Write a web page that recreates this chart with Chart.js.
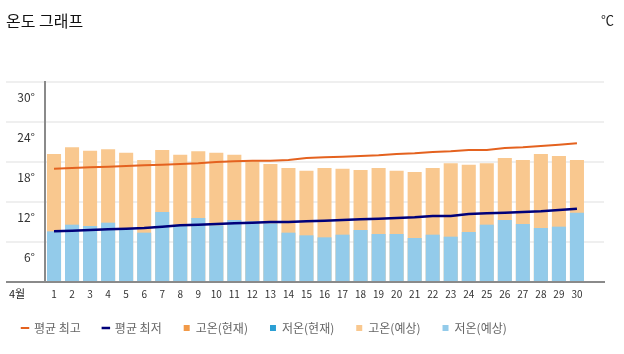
<!DOCTYPE html>
<html>
<head>
<meta charset="utf-8">
<script src="https://cdn.jsdelivr.net/npm/chart.js@4"></script>
<style>
  body { margin: 0; background: #fff; }
  #wrap { position: relative; width: 624px; height: 354px; }
  #titulo { position: absolute; left: 6px; top: 8px; font: 16px "Noto Sans CJK KR", sans-serif; color: #111; }
  #unidad { position: absolute; right: 10px; top: 10px; font: 13px "Noto Sans CJK KR", sans-serif; color: #222; }
  #mes { position: absolute; left: 9px; top: 285px; font: 11px "Noto Sans CJK KR", sans-serif; color: #222; }
</style>
</head>
<body>
<div id="wrap">
  <div id="titulo">온도 그래프</div>
  <div id="unidad">℃</div>
  <div id="mes">4월</div>
  <canvas id="myChart" width="624" height="354"></canvas>
</div>
<script>
const dias = ["1","2","3","4","5","6","7","8","9","10","11","12","13","14","15","16","17","18","19","20","21","22","23","24","25","26","27","28","29","30",""];

const promedioMaxima = [17.0,17.1,17.2,17.3,17.4,17.5,17.6,17.7,17.8,18.0,18.1,18.2,18.2,18.3,18.6,18.7,18.8,18.9,19.0,19.2,19.3,19.5,19.6,19.8,19.8,20.1,20.2,20.4,20.6,20.8];
const promedioMinima = [7.6,7.7,7.8,7.9,8.0,8.1,8.3,8.5,8.6,8.7,8.8,8.9,9.0,9.0,9.1,9.2,9.3,9.4,9.5,9.6,9.7,9.9,9.9,10.2,10.3,10.4,10.5,10.6,10.8,11.0];

const maximaActual = [];
const minimaActual = [];

const maximaPrevista = [19.2,20.2,19.7,19.9,19.4,18.3,19.8,19.1,19.6,19.4,19.1,18.1,17.7,17.1,16.7,17.1,17.0,16.8,17.1,16.7,16.5,17.1,17.8,17.6,17.8,18.6,18.3,19.2,18.9,18.3];
const minimaPrevista = [7.6,8.6,8.4,8.9,8.0,7.4,10.5,8.6,9.6,8.5,9.3,9.1,8.8,7.4,7.0,6.7,7.1,7.8,7.2,7.2,6.6,7.1,6.8,7.5,8.6,9.3,8.7,8.1,8.3,10.4];

const ticksY = [0, 6, 12, 18, 24, 30];

const fuente = "'Noto Sans CJK KR', 'Noto Sans', sans-serif";

const ctx = document.getElementById('myChart').getContext('2d');
new Chart(ctx, {
  data: {
    labels: dias,
    datasets: [
      {
        type: 'line',
        label: '평균 최고',
        data: promedioMaxima,
        borderColor: '#e4621f',
        backgroundColor: '#e4621f',
        borderWidth: 2,
        pointRadius: 0,
        pointStyle: 'line',
        order: 0
      },
      {
        type: 'line',
        label: '평균 최저',
        data: promedioMinima,
        borderColor: '#00007a',
        backgroundColor: '#00007a',
        borderWidth: 2.5,
        pointRadius: 0,
        pointStyle: 'line',
        order: 0
      },
      {
        type: 'bar',
        label: '고온(현재)',
        data: maximaActual,
        backgroundColor: '#f29a48',
        pointStyle: 'rect',
        grouped: false,
        order: 1
      },
      {
        type: 'bar',
        label: '저온(현재)',
        data: minimaActual,
        backgroundColor: '#2b9fd4',
        pointStyle: 'rect',
        grouped: false,
        order: 1
      },
      {
        type: 'bar',
        label: '고온(예상)',
        data: maximaPrevista,
        backgroundColor: '#f9c88f',
        pointStyle: 'rect',
        grouped: false,
        order: 3
      },
      {
        type: 'bar',
        label: '저온(예상)',
        data: minimaPrevista,
        backgroundColor: '#93cbea',
        pointStyle: 'rect',
        grouped: false,
        order: 2
      }
    ]
  },
  options: {
    responsive: false,
    animation: false,
    categoryPercentage: 1,
    barPercentage: 0.78,
    layout: {
      padding: { top: 82, right: 20, left: 0, bottom: 10 }
    },
    plugins: {
      tooltip: { enabled: false },
      legend: {
        position: 'bottom',
        align: 'start',
        labels: {
          usePointStyle: true,
          boxWidth: 6,
          boxHeight: 6,
          padding: 22,
          color: '#666',
          font: { family: fuente, size: 12 },
          sort: function (a, b) { return a.datasetIndex - b.datasetIndex; }
        }
      }
    },
    scales: {
      x: {
        grid: { display: false, drawTicks: false },
        border: { display: true, color: '#8a8a8a', width: 2 },
        ticks: {
          color: '#333',
          font: { family: fuente, size: 10 },
          padding: 6,
          autoSkip: false,
          maxRotation: 0
        },
        afterFit: function (escala) { escala.height = 18; }
      },
      y: {
        min: 0,
        max: 30,
        afterBuildTicks: function (escala) {
          escala.ticks = ticksY.map(function (v) { return { value: v }; });
        },
        grid: {
          color: function (c) { return c.tick && c.tick.value === 0 ? '#8a8a8a' : '#efefef'; },
          lineWidth: 2,
          tickLength: 39
        },
        border: { display: true, color: '#8a8a8a', width: 2 },
        ticks: {
          color: '#333',
          font: { family: fuente, size: 12 },
          padding: -29,
          labelOffset: 15,
          callback: function (v) { return v === 0 ? '' : v + '°'; }
        },
        afterFit: function (escala) { escala.width = 45; }
      }
    }
  }
});
</script>
</body>
</html>
